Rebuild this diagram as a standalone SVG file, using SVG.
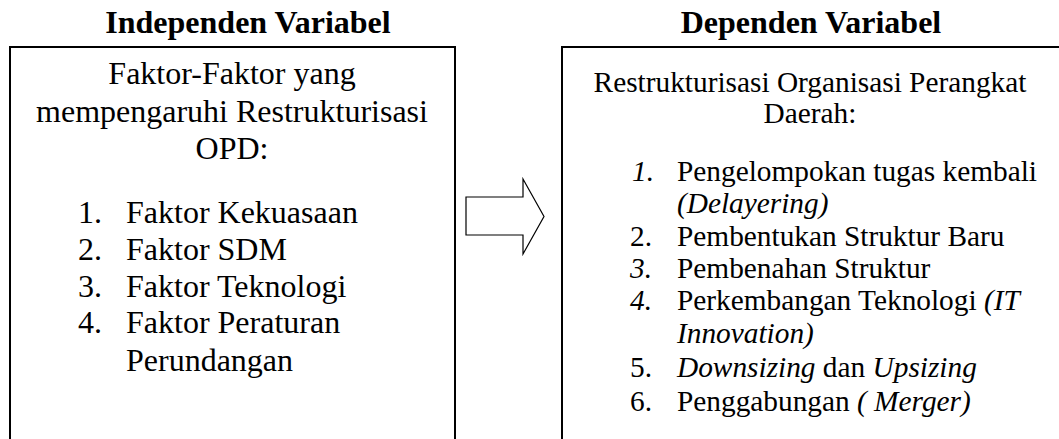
<svg xmlns="http://www.w3.org/2000/svg" width="1059" height="439" viewBox="0 0 1059 439">
<style>
text{font-family:'Liberation Serif','DejaVu Serif',serif;font-weight:normal;fill:#000}
.title{font-size:32px;font-weight:bold;text-anchor:middle}
.l{font-size:32px}
.r{font-size:29.33px}
.c{text-anchor:middle}
.i{font-style:italic}
.box{fill:none;stroke:#000;stroke-width:2}
.arrow{fill:#fff;stroke:#000;stroke-width:1.2;stroke-linejoin:miter}
</style>
<rect width="1059" height="439" fill="#fff"/>
<g id="independen">
<text class="title" x="248" y="33">Independen Variabel</text>
<path class="box" d="M10,445 V47 H455 V445"/>
<text class="l c" x="232" y="84">Faktor-Faktor yang</text>
<text class="l c" x="232" y="122">mempengaruhi Restrukturisasi</text>
<text class="l c" x="232" y="159">OPD:</text>
<text class="l" x="78" y="223">1.</text><text class="l" x="126" y="223">Faktor Kekuasaan</text>
<text class="l" x="78" y="260">2.</text><text class="l" x="126" y="260">Faktor SDM</text>
<text class="l" x="78" y="297">3.</text><text class="l" x="126" y="297">Faktor Teknologi</text>
<text class="l" x="78" y="333">4.</text><text class="l" x="126" y="333">Faktor Peraturan</text>
<text class="l" x="126" y="371">Perundangan</text>
</g>
<g id="dependen">
<text class="title" x="811" y="33">Dependen Variabel</text>
<path class="box" d="M562,445 V47 H1070"/>
<text class="r c" x="810" y="92">Restrukturisasi Organisasi Perangkat</text>
<text class="r c" x="810" y="123">Daerah:</text>
<text class="r i" x="632" y="181">1.</text><text class="r" x="677" y="181">Pengelompokan tugas kembali</text>
<text class="r i" x="677" y="213">(Delayering)</text>
<text class="r" x="630" y="246">2.</text><text class="r" x="677" y="246">Pembentukan Struktur Baru</text>
<text class="r i" x="630" y="278">3.</text><text class="r" x="677" y="278">Pembenahan Struktur</text>
<text class="r i" x="630" y="310">4.</text><text class="r" x="677" y="310">Perkembangan Teknologi <tspan class="i">(IT</tspan></text>
<text class="r i" x="677" y="343">Innovation)</text>
<text class="r" x="630" y="377">5.</text><text class="r" x="677" y="377"><tspan class="i">Downsizing</tspan> dan <tspan class="i">Upsizing</tspan></text>
<text class="r" x="630" y="411">6.</text><text class="r" x="677" y="411">Penggabungan <tspan class="i">( Merger)</tspan></text>
</g>
<g id="connectors">
<polygon class="arrow" points="466,197 523,197 523,179 544,216.5 523,254 523,235 466,235"/>
</g>
</svg>
